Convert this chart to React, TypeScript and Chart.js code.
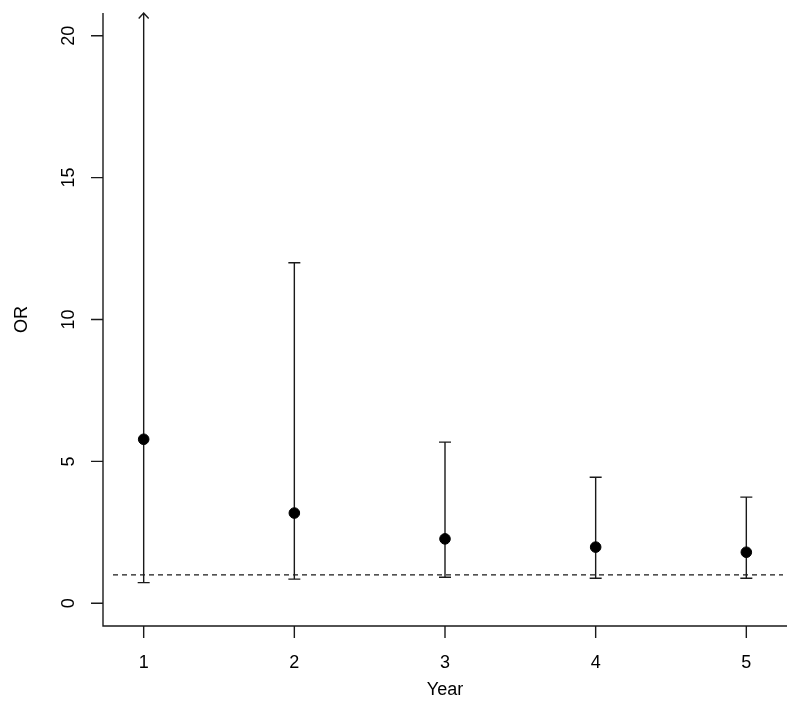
import React, { useEffect, useRef } from "react";
import { Chart, registerables } from "chart.js";

Chart.register(...registerables);

// ---- Data ----
const years = [1, 2, 3, 4, 5];
const oddsRatios = [5.78, 3.18, 2.27, 1.98, 1.8];
const lowerCI = [0.73, 0.85, 0.92, 0.88, 0.88];
// Year 1 upper limit lies beyond the plotted range (drawn as an arrow)
const upperCI = [26, 12.0, 5.68, 4.44, 3.74];
const xTickValues = [1, 2, 3, 4, 5];
const yTickValues = [0, 5, 10, 15, 20];
const referenceOR = 1;
const xTitle = "Year";
const yTitle = "OR";

const FONT = "18px 'Liberation Sans', Arial, Helvetica, sans-serif";
const INK = "#1a1a1a";

const rStylePlugin = {
  id: "rStyle",
  beforeDatasetsDraw(chart: any) {
    const { ctx, chartArea: a, scales } = chart;
    const x = scales.x;
    const y = scales.y;
    ctx.save();
    ctx.strokeStyle = INK;
    ctx.lineWidth = 1.4;

    // reference line
    const yRef = y.getPixelForValue(referenceOR);
    ctx.setLineDash([5, 4]);
    ctx.beginPath();
    ctx.moveTo(a.left + 10, yRef);
    ctx.lineTo(a.right - 4, yRef);
    ctx.stroke();
    ctx.setLineDash([]);

    // error bars
    const capHalf = 6;
    years.forEach((yr, i) => {
      const px = x.getPixelForValue(yr);
      const lo = y.getPixelForValue(lowerCI[i]);
      const clipped = upperCI[i] > y.max;
      const hi = y.getPixelForValue(Math.min(upperCI[i], y.max));
      ctx.beginPath();
      ctx.moveTo(px, lo);
      ctx.lineTo(px, hi);
      ctx.moveTo(px - capHalf, lo);
      ctx.lineTo(px + capHalf, lo);
      if (clipped) {
        ctx.moveTo(px - 5, hi + 5.5);
        ctx.lineTo(px, hi);
        ctx.lineTo(px + 5, hi + 5.5);
      } else {
        ctx.moveTo(px - capHalf, hi);
        ctx.lineTo(px + capHalf, hi);
      }
      ctx.stroke();
    });
    ctx.restore();
  },
  afterDraw(chart: any) {
    const { ctx, chartArea: a, scales } = chart;
    const x = scales.x;
    const y = scales.y;
    const tickLen = 12;
    ctx.save();
    ctx.strokeStyle = INK;
    ctx.lineWidth = 1.4;
    // L-shaped box
    ctx.beginPath();
    ctx.moveTo(a.left, a.top);
    ctx.lineTo(a.left, a.bottom);
    ctx.lineTo(a.right, a.bottom);
    ctx.stroke();

    // ticks
    ctx.beginPath();
    xTickValues.forEach((v) => {
      const px = x.getPixelForValue(v);
      ctx.moveTo(px, a.bottom);
      ctx.lineTo(px, a.bottom + tickLen);
    });
    yTickValues.forEach((v) => {
      const py = y.getPixelForValue(v);
      ctx.moveTo(a.left, py);
      ctx.lineTo(a.left - tickLen, py);
    });
    ctx.stroke();

    // tick labels
    ctx.fillStyle = "#000";
    ctx.font = FONT;
    ctx.textAlign = "center";
    ctx.textBaseline = "middle";
    xTickValues.forEach((v) => {
      ctx.fillText(String(v), x.getPixelForValue(v), a.bottom + 37);
    });
    yTickValues.forEach((v) => {
      ctx.save();
      ctx.translate(a.left - 34, y.getPixelForValue(v));
      ctx.rotate(-Math.PI / 2);
      ctx.fillText(String(v), 0, 0);
      ctx.restore();
    });

    // axis titles
    ctx.fillText(xTitle, (a.left + a.right) / 2, a.bottom + 64);
    ctx.save();
    ctx.translate(22, (a.top + a.bottom) / 2);
    ctx.rotate(-Math.PI / 2);
    ctx.fillText(yTitle, 0, 0);
    ctx.restore();
    ctx.restore();
  },
};

export default function App() {
  const ref = useRef<HTMLCanvasElement>(null);
  useEffect(() => {
    if (!ref.current) return;
    const chart = new Chart(ref.current, {
      type: "scatter",
      data: {
        datasets: [
          {
            data: years.map((yr, i) => ({ x: yr, y: oddsRatios[i] })),
            backgroundColor: "#000",
            borderColor: "#000",
            pointRadius: 5.3,
            pointHoverRadius: 5.3,
          },
        ],
      },
      options: {
        animation: false,
        responsive: false,
        maintainAspectRatio: false,
        layout: { padding: { left: 103, top: 13, right: 13, bottom: 85 } },
        plugins: { legend: { display: false }, tooltip: { enabled: false } },
        scales: {
          x: { type: "linear", min: 0.73, max: 5.27, display: false },
          y: { type: "linear", min: -0.8, max: 20.8, display: false },
        },
      },
      plugins: [rStylePlugin],
    });
    return () => chart.destroy();
  }, []);
  return (
    <div style={{ position: "absolute", left: 0, top: 0, width: 800, height: 711, background: "#fff" }}>
      <canvas ref={ref} width={800} height={711} style={{ width: 800, height: 711 }} />
    </div>
  );
}
